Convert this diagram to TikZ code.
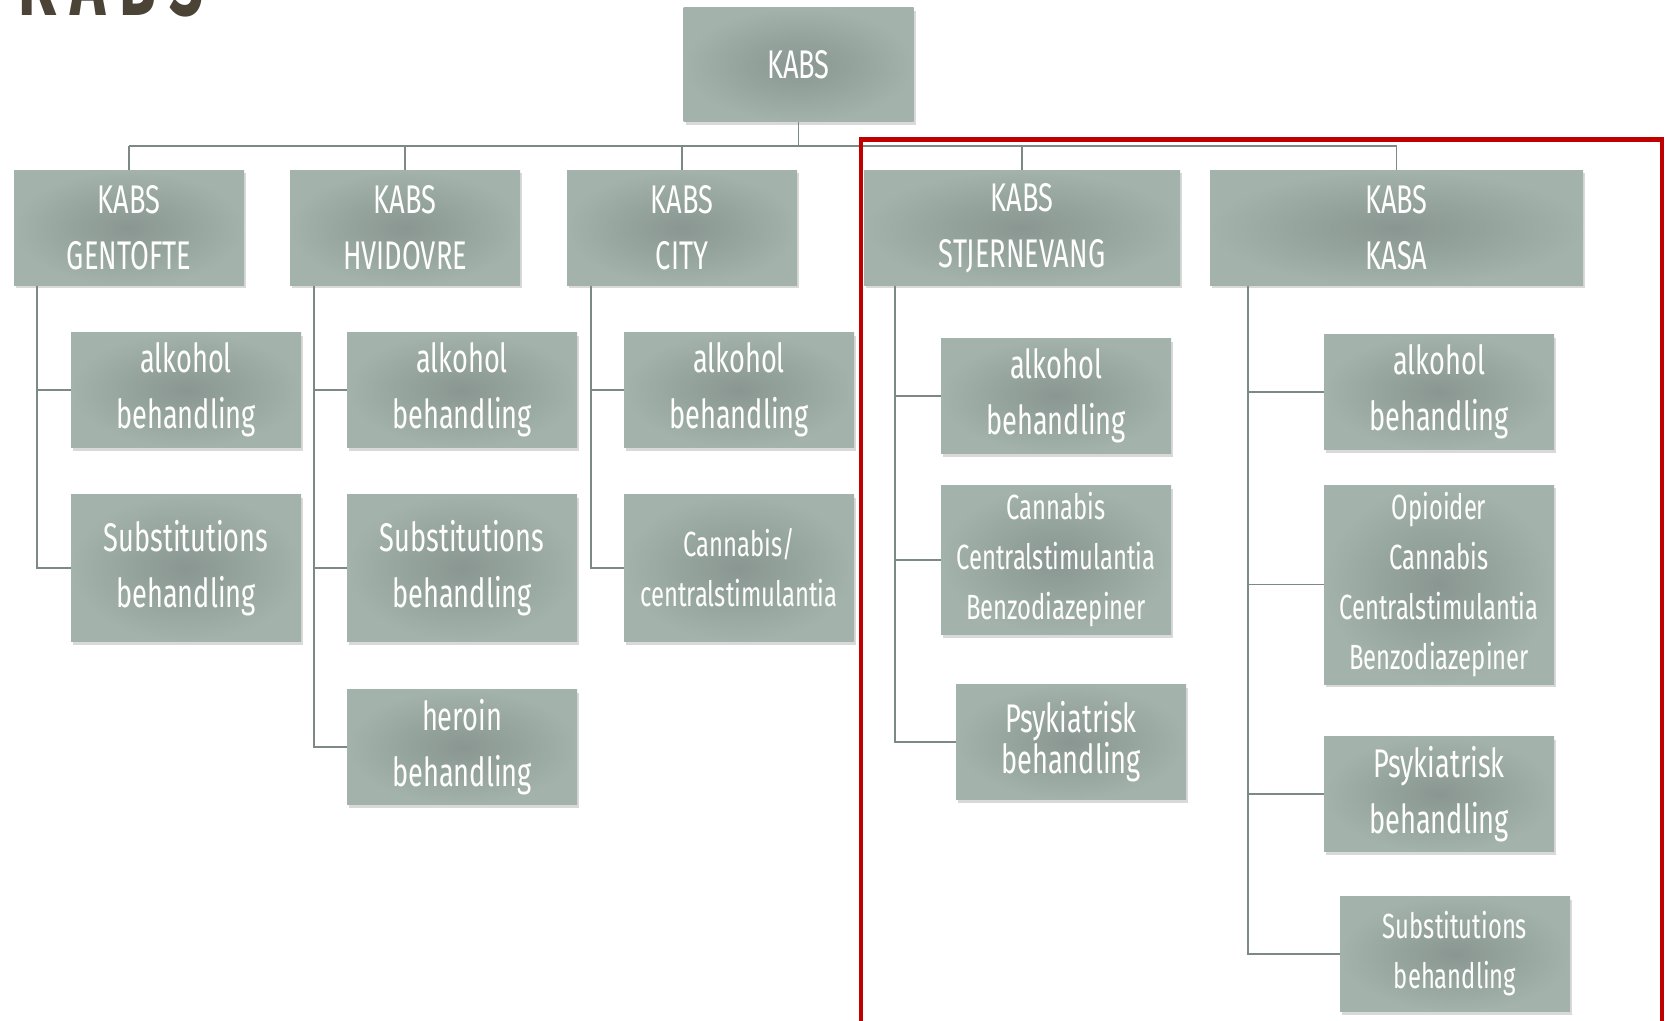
\documentclass[tikz,border=0pt]{standalone}
\usepackage{fontspec}
\setmainfont{Fira Sans}[FakeStretch=0.68]
\newfontfamily\titlefont{Fira Sans}[FakeStretch=0.62, LetterSpace=15]
\usetikzlibrary{shadows}
\definecolor{boxmid}{RGB}{137,150,145}
\definecolor{boxedge}{RGB}{163,178,171}
\definecolor{linkgray}{RGB}{125,137,133}
\definecolor{framered}{RGB}{192,0,0}
\definecolor{titlebrown}{RGB}{74,67,54}
\newcommand{\bigtxt}{\fontsize{20}{28}\selectfont}
\newcommand{\smalltxt}{\fontsize{17.5}{25}\selectfont}
\tikzset{
	box/.style = {rectangle, inner sep = 0pt, align = center, text = white,
		minimum width = 115pt, minimum height = 57.5pt,
		inner color = boxmid, outer color = boxedge,
		drop shadow = {shadow xshift = 1pt, shadow yshift = -1.5pt, opacity = 0.3}},
	link/.style = {draw = linkgray, line width = 0.8pt}
}

\begin{document}
\begin{tikzpicture}[x = 0.5pt, y = -0.5pt]
	\useasboundingbox (0,0) rectangle (1668,1021);
	\node (title) at (11,16) [anchor = base west, text = titlebrown, font = \titlefont\fontsize{48}{48}\selectfont\bfseries] {KABS};

	\node (kabs) at (798.5,65) [box, minimum height = 57pt, font = \bigtxt] {KABS};
	\coordinate (bus) at (0,146);

	\node (gent) at (129,228) [box, font = \bigtxt] {KABS\\GENTOFTE};
	\node (hvid) at (405,228) [box, font = \bigtxt] {KABS\\HVIDOVRE};
	\node (city) at (682,228) [box, font = \bigtxt] {KABS\\CITY};
	\node (stj) at (1022,228) [box, minimum width = 158pt, font = \bigtxt] {KABS\\STJERNEVANG};
	\node (kasa) at (1396.5,228) [box, minimum width = 186.5pt, font = \bigtxt] {KABS\\KASA};

	\draw [link] (kabs.south) -- (kabs.south |- bus);
	\draw [link] (bus -| gent.north) -- (bus -| kasa.north);
	\foreach \n in {gent,hvid,city,stj,kasa}
	\draw [link] (bus -| \n.north) -- (\n.north);

	% gentofte
	\coordinate (gtrunk) at (37,0);
	\node (galk) at (186,390) [box, font = \bigtxt] {alkohol\\behandling};
	\node (gsub) at (186,568) [box, minimum height = 73.5pt, font = \bigtxt] {Substitutions\\behandling};
	\foreach \c in {galk,gsub}
	\draw [link] (gtrunk |- gent.south) |- (\c.west);

	% hvidovre
	\coordinate (htrunk) at (314,0);
	\node (halk) at (462,390) [box, font = \bigtxt] {alkohol\\behandling};
	\node (hsub) at (462,568) [box, minimum height = 73.5pt, font = \bigtxt] {Substitutions\\behandling};
	\node (hher) at (462,747) [box, font = \bigtxt] {heroin\\behandling};
	\foreach \c in {halk,hsub,hher}
	\draw [link] (htrunk |- hvid.south) |- (\c.west);

	% city
	\coordinate (ctrunk) at (591,0);
	\node (calk) at (739,390) [box, font = \bigtxt] {alkohol\\behandling};
	\node (ccan) at (739,568) [box, minimum height = 73.5pt, font = \smalltxt] {Cannabis/\\centralstimulantia};
	\foreach \c in {calk,ccan}
	\draw [link] (ctrunk |- city.south) |- (\c.west);

	% stjernevang
	\coordinate (strunk) at (895,0);
	\node (salk) at (1056,396) [box, font = \bigtxt] {alkohol\\behandling};
	\node (scan) at (1056,560) [box, minimum height = 74.5pt, font = \smalltxt] {Cannabis\\Centralstimulantia\\Benzodiazepiner};
	\node (spsy) at (1071,742) [box, font = \fontsize{20}{20.5}\selectfont] {Psykiatrisk\\behandling};
	\foreach \c in {salk,scan,spsy}
	\draw [link] (strunk |- stj.south) |- (\c.west);

	% kasa
	\coordinate (ktrunk) at (1248,0);
	\node (kalk) at (1439,392) [box, font = \bigtxt] {alkohol\\behandling};
	\node (kopi) at (1439,584.5) [box, minimum height = 99.5pt, font = \smalltxt] {Opioider\\Cannabis\\Centralstimulantia\\Benzodiazepiner};
	\node (kpsy) at (1439,794) [box, font = \bigtxt] {Psykiatrisk\\behandling};
	\node (ksub) at (1455,954) [box, font = \smalltxt] {Substitutions\\behandling};
	\foreach \c in {kalk,kopi,kpsy,ksub}
	\draw [link] (ktrunk |- kasa.south) |- (\c.west);

	\draw [framered, line width = 2.25pt] (861,1030) -- (861,139.5) -- (1662,139.5) -- (1662,1030);
\end{tikzpicture}
\end{document}
